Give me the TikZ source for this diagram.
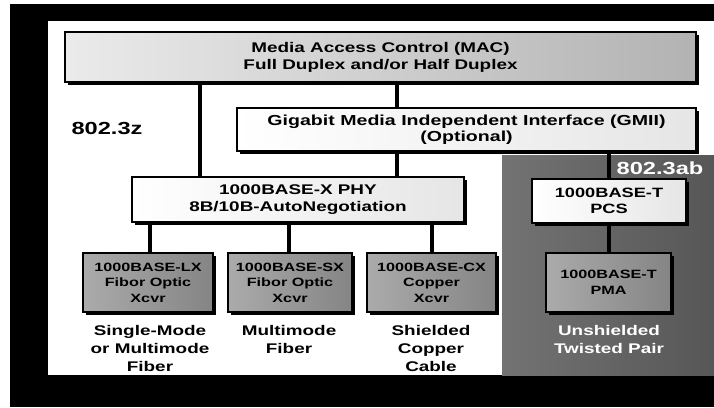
\documentclass[tikz,border=0pt]{standalone}
\usepackage{fontspec}
\setmainfont{Liberation Sans}[FakeStretch=1.35]
\usetikzlibrary{shadows}
\newcommand{\fsz}[2]{\fontsize{#1}{#2}\selectfont}
\tikzset{
  box/.style={draw=black, line width=2pt, rectangle, inner sep=0pt,
    align=center,
    general shadow={fill=black, shadow xshift=3pt, shadow yshift=-3pt}},
  whitebox/.style={box, left color=white, right color=black!10},
  macbox/.style={box, left color=black!8, right color=black!30},
  xcvrbox/.style={box, left color=black!33, right color=black!48,
    font=\bfseries\fsz{12}{15.5}},
  link/.style={line width=3.5pt, line cap=butt},
  caption/.style={align=center, inner sep=0pt, font=\bfseries\fsz{14}{18}},
  stdlabel/.style={inner sep=0pt, font=\bfseries\fsz{17.5}{20}},
}
\begin{document}
\begin{tikzpicture}[x=1pt, y=-1pt]
  % frame
  \useasboundingbox (0,0) rectangle (714,407);
  \fill[white] (0,0) rectangle (714,407);
  \fill[black] (10,4) rectangle (714,407);
  \fill[white] (48,21) rectangle (714,375);

  % 802.3ab region
  \shade[left color=black!55, right color=black!66] (502,155) rectangle (714,375);

  % layer boxes
  \node[macbox, font=\bfseries\fsz{14}{17}, minimum width=631pt, minimum height=50pt]
    (mac) at (380.5,57) {Media Access Control (MAC)\\Full Duplex and/or Half Duplex};
  \node[whitebox, font=\bfseries\fsz{14.5}{16}, minimum width=459pt, minimum height=43pt]
    (gmii) at (466.5,129.5) {Gigabit Media Independent Interface (GMII)\\(Optional)};
  \node[whitebox, font=\bfseries\fsz{14}{17}, minimum width=332pt, minimum height=45pt]
    (phy) at (298,199.5) {1000BASE-X PHY\\8B/10B-AutoNegotiation};
  \node[whitebox, font=\bfseries\fsz{13.5}{16.5}, minimum width=154pt, minimum height=44pt]
    (pcs) at (609,201) {1000BASE-T\\PCS};

  \node[xcvrbox, minimum width=130pt, minimum height=59pt] (lx) at (148,282.5)
    {1000BASE-LX\\Fibor Optic\\Xcvr};
  \node[xcvrbox, minimum width=124pt, minimum height=59pt] (sx) at (290,282.5)
    {1000BASE-SX\\Fibor Optic\\Xcvr};
  \node[xcvrbox, minimum width=129pt, minimum height=59pt] (cx) at (431.5,282.5)
    {1000BASE-CX\\Copper\\Xcvr};
  \node[xcvrbox, font=\bfseries\fsz{12}{16.5}, minimum width=125pt, minimum height=59pt]
    (pma) at (608.5,282.5) {1000BASE-T\\PMA};

  % connectors
  \draw[link] (200,0 |- mac.south) -- (200,0 |- phy.north);
  \draw[link] (397,0 |- mac.south) -- (397,0 |- gmii.north);
  \draw[link] (397,0 |- gmii.south) -- (397,0 |- phy.north);
  \draw[link] (609,0 |- gmii.south) -- (pcs.north);
  \draw[link] (150,0 |- phy.south) -- (lx.north -| 150,0);
  \draw[link] (289,0 |- phy.south) -- (sx.north -| 289,0);
  \draw[link] (432,0 |- phy.south) -- (cx.north -| 432,0);
  \draw[link] (pcs.south) -- (pma.north -| pcs.south);

  % standard labels
  \node[stdlabel] (z) at (107,128) {802.3z};
  \node[stdlabel, text=white] (ab) at (660,168) {802.3ab};

  % media captions
  \node[caption] (m1) at (150,348) {Single-Mode\\or Multimode\\Fiber};
  \node[caption] (m2) at (289,339) {Multimode\\Fiber};
  \node[caption] (m3) at (431,348) {Shielded\\Copper\\Cable};
  \node[caption, text=white] (m4) at (609,339) {Unshielded\\Twisted Pair};
\end{tikzpicture}
\end{document}
